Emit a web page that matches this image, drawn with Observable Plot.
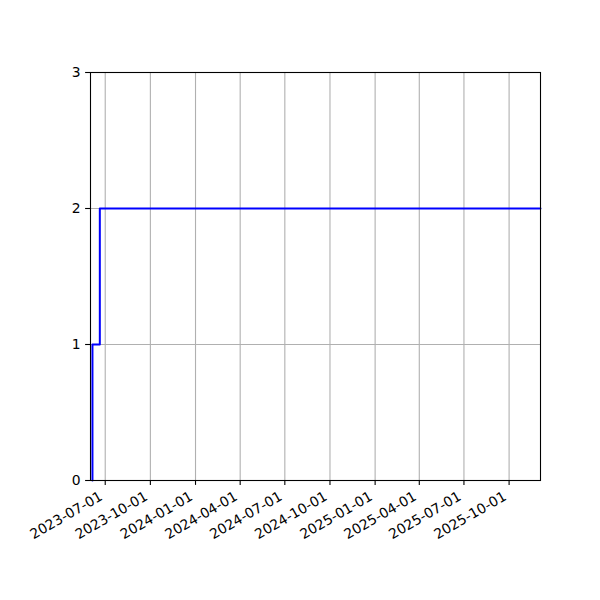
<!DOCTYPE html>
<html><head>
<meta charset="utf-8">
<script src="https://cdn.jsdelivr.net/npm/d3@7"></script>
<script src="https://cdn.jsdelivr.net/npm/@observablehq/plot@0.6"></script>
<style>html,body{margin:0;padding:0;background:#fff}</style>
</head><body><div id="chart"></div>
<script>
const dates = ["2023-06-05", "2023-06-05", "2023-06-20", "2025-12-04"];
const counts = [0, 1, 2, 2];
const xTickLabels = ["2023-07-01", "2023-10-01", "2024-01-01", "2024-04-01", "2024-07-01", "2024-10-01", "2025-01-01", "2025-04-01", "2025-07-01", "2025-10-01"];
const yTicks = [0, 1, 2, 3];
const xDomain = ["2023-06-01", "2025-12-04"];
const yDomain = [0, 3];

const data = dates.map((d, i) => ({date: new Date(d), count: counts[i]}));
const xTickDates = xTickLabels.map(d => new Date(d));
const fmt = d3.utcFormat("%Y-%m-%d");

const chart = Plot.plot({
  width: 600, height: 600,
  marginLeft: 90, marginRight: 60, marginTop: 72, marginBottom: 120,
  style: {fontFamily: "DejaVu Sans", fontSize: "13.9px", background: "#fff", color: "#000"},
  x: {type: "utc", domain: xDomain.map(d => new Date(d))},
  y: {domain: yDomain},
  marks: [
    Plot.gridX(xTickDates, {stroke: "#b0b0b0", strokeOpacity: 1, strokeWidth: 1.1}),
    Plot.gridY(yTicks, {stroke: "#b0b0b0", strokeOpacity: 1, strokeWidth: 1.1}),
    Plot.line(data, {x: "date", y: "count", curve: "step-after", stroke: "#0000ff", strokeWidth: 2}),
    Plot.frame({stroke: "#000", strokeWidth: 1.1}),
    Plot.axisX(xTickDates, {tickFormat: () => "", tickSize: 4.9, label: null, strokeWidth: 1.1}),
    Plot.axisX(xTickDates, {tickFormat: fmt, tickRotate: -30, tickSize: 0, tickPadding: 9.8, dx: -4, dy: 5, label: null, fontSize: 13.9}),
    Plot.axisY(yTicks, {tickFormat: d => String(d), tickSize: 4.9, tickPadding: 4.9, label: null, fontSize: 13.9, strokeWidth: 1.1})
  ]
});
document.getElementById("chart").appendChild(chart);
</script>
</body></html>
